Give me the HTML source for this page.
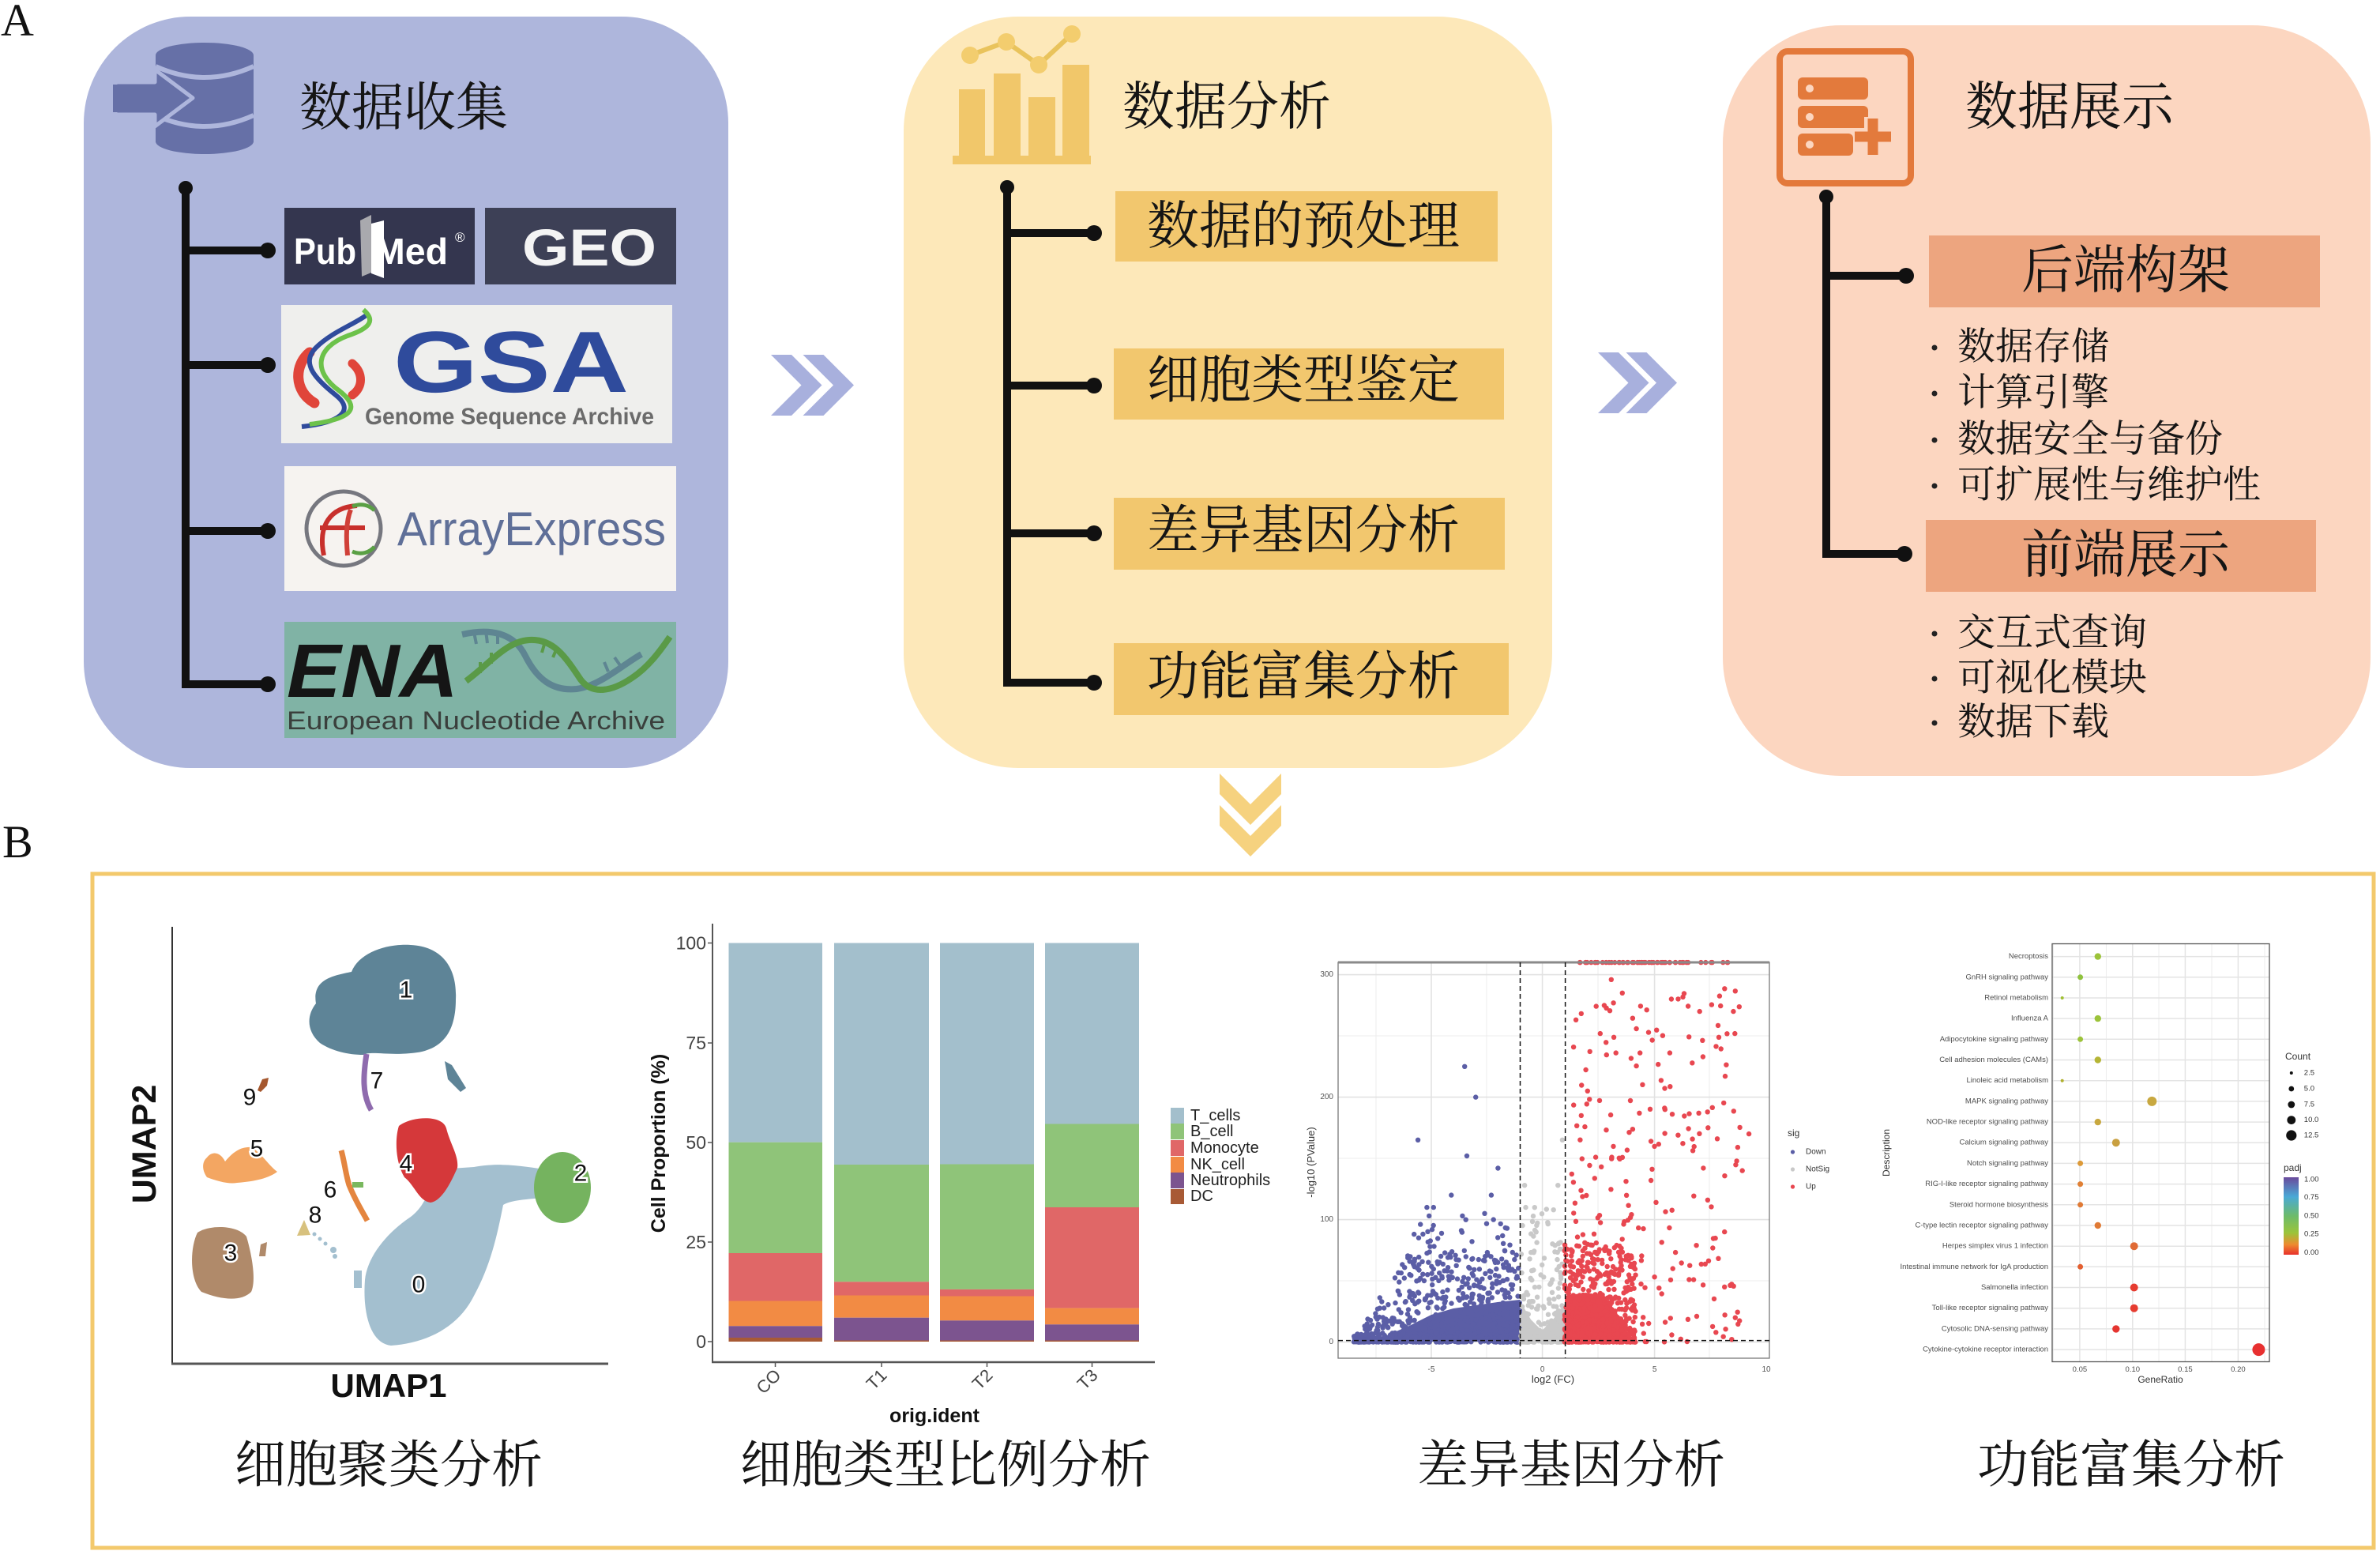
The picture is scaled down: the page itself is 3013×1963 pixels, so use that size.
<!DOCTYPE html>
<html><head><meta charset="utf-8">
<style>
html,body{margin:0;padding:0;background:#fff;}
svg{display:block;}
.cjk{font-family:"Liberation Serif","Noto Serif CJK SC",serif;}
.s{font-family:"Liberation Sans",sans-serif;}
</style></head><body>
<svg width="3013" height="1963" viewBox="0 0 3013 1963" xmlns="http://www.w3.org/2000/svg">
<rect width="3013" height="1963" fill="#fff"/>
<defs>
<linearGradient id="padj" x1="0" y1="0" x2="0" y2="1">
<stop offset="0" stop-color="#6a4a9c"/><stop offset="0.25" stop-color="#4aa9d6"/><stop offset="0.5" stop-color="#6dbb6a"/><stop offset="0.72" stop-color="#9cc43a"/><stop offset="0.87" stop-color="#ee8a30"/><stop offset="1" stop-color="#e8302c"/>
</linearGradient>
<clipPath id="vclip"><rect x="1694" y="1214" width="546" height="505"/></clipPath>
</defs>

<!-- Labels A / B -->
<text x="1" y="45" font-family="Liberation Serif, serif" font-size="58" fill="#111">A</text>
<text x="3" y="1085" font-family="Liberation Serif, serif" font-size="58" fill="#111">B</text>

<!-- ============ PANEL A : BLUE ============ -->
<rect x="106" y="21" width="816" height="951" rx="135" fill="#aeb6dc"/>
<g fill="#6670a7">
<rect x="197" y="70" width="124" height="110"/>
<ellipse cx="259" cy="70" rx="62" ry="16"/>
<ellipse cx="259" cy="179" rx="62" ry="16"/>
</g>
<path d="M197,84 Q259,112 321,84" stroke="#aeb6dc" stroke-width="6" fill="none"/>
<path d="M197,146 Q259,174 321,146" stroke="#aeb6dc" stroke-width="6" fill="none"/>
<polygon points="146,104 196,104 196,88 244,124 196,160 196,145 146,145" fill="#6670a7" stroke="#aeb6dc" stroke-width="5" stroke-linejoin="round"/>
<rect x="143" y="107" width="56" height="35" fill="#6670a7"/>
<text class="cjk" x="379" y="137" font-size="66" dominant-baseline="central" fill="#151515">数据收集</text>

<g stroke="#111" stroke-width="10" fill="none">
<line x1="235" y1="238" x2="235" y2="871"/>
<line x1="235" y1="317" x2="338" y2="317"/>
<line x1="235" y1="462" x2="338" y2="462"/>
<line x1="235" y1="672" x2="338" y2="672"/>
<line x1="230" y1="866" x2="338" y2="866"/>
</g>
<g fill="#111">
<circle cx="235" cy="238" r="9"/>
<circle cx="339" cy="317" r="10"/><circle cx="339" cy="462" r="10"/><circle cx="339" cy="672" r="10"/><circle cx="339" cy="866" r="10"/>
</g>

<!-- PubMed -->
<rect x="360" y="263" width="241" height="97" fill="#34364f"/>
<text class="s" x="372" y="334" font-size="46" font-weight="bold" fill="#fff" textLength="79" lengthAdjust="spacingAndGlyphs">Pub</text>
<polygon points="456,279 470,272 470,345 458,350" fill="#a9a9ae"/>
<polygon points="470,283 486,279 486,352 470,346" fill="#fff"/>
<text class="s" x="474" y="334" font-size="46" font-weight="bold" fill="#fff" textLength="93" lengthAdjust="spacingAndGlyphs">Med</text>
<text class="s" x="576" y="306" font-size="17" fill="#fff">®</text>
<!-- GEO -->
<rect x="614" y="263" width="242" height="97" fill="#3d4056"/>
<text class="s" x="661" y="336" font-size="66" font-weight="bold" fill="#f4f4f4" textLength="170" lengthAdjust="spacingAndGlyphs">GEO</text>
<!-- GSA -->
<rect x="356" y="386" width="495" height="175" fill="#efefed"/>
<path d="M392,446 C372,462 372,495 398,510" stroke="#e0453a" stroke-width="13" fill="none" stroke-linecap="round"/>
<path d="M446,460 C460,472 460,490 446,500" stroke="#e0453a" stroke-width="11" fill="none" stroke-linecap="round"/>
<path d="M465,398 C450,410 420,420 400,440 C380,460 400,480 425,500 C450,520 430,535 382,540" stroke="#2f4b9c" stroke-width="6" fill="none"/>
<path d="M460,392 C475,405 470,415 440,425 C400,440 395,470 430,495 C455,515 450,530 392,537" stroke="#6cc24a" stroke-width="6" fill="none"/>
<text class="s" x="498" y="496" font-size="110" font-weight="bold" fill="#2f4b9c" textLength="298" lengthAdjust="spacingAndGlyphs">GSA</text>
<text class="s" x="462" y="537" font-size="30" font-weight="bold" fill="#6b6b6b" textLength="366" lengthAdjust="spacingAndGlyphs">Genome Sequence Archive</text>
<!-- ArrayExpress -->
<rect x="360" y="590" width="496" height="158" fill="#f6f3f0"/>
<circle cx="435" cy="669" r="47" stroke="#76777f" stroke-width="5" fill="none"/>
<path d="M410,703 C402,665 418,642 452,640" stroke="#c8302c" stroke-width="6" fill="none"/>
<path d="M405,668 L462,668" stroke="#c8302c" stroke-width="6"/>
<path d="M440,703 C438,680 438,660 444,645" stroke="#d04038" stroke-width="6" fill="none"/>
<path d="M446,641 C458,636 468,640 474,646" stroke="#5aa045" stroke-width="5" fill="none"/>
<path d="M446,698 C458,703 468,699 474,692" stroke="#5aa045" stroke-width="5" fill="none"/>
<text class="s" x="503" y="690" font-size="60" fill="#5f6f98" textLength="340" lengthAdjust="spacingAndGlyphs">ArrayExpress</text>
<!-- ENA -->
<rect x="360" y="787" width="496" height="147" fill="#80b3a5"/>
<path d="M585,803 C620,795 650,800 665,830 C680,860 700,875 730,872 C760,868 790,840 812,828" stroke="#5e8592" stroke-width="8" fill="none"/>
<path d="M590,862 C620,840 640,812 670,810 C700,808 715,830 735,860 C750,880 775,875 800,858 C820,845 835,825 848,806" stroke="#5a9a47" stroke-width="8" fill="none"/>
<g stroke="#5e8592" stroke-width="4"><line x1="600" y1="800" x2="603" y2="815"/><line x1="615" y1="798" x2="617" y2="814"/><line x1="630" y1="800" x2="630" y2="815"/><line x1="770" y1="850" x2="765" y2="838"/><line x1="785" y1="842" x2="778" y2="832"/></g>
<g stroke="#5a9a47" stroke-width="4"><line x1="608" y1="852" x2="608" y2="838"/><line x1="622" y1="840" x2="622" y2="826"/><line x1="690" y1="812" x2="686" y2="826"/><line x1="705" y1="820" x2="700" y2="832"/></g>
<text class="s" x="363" y="882" font-size="96" font-weight="bold" font-style="italic" fill="#151515" textLength="217" lengthAdjust="spacingAndGlyphs">ENA</text>
<text class="s" x="363" y="923" font-size="32" fill="#3a3f3c" textLength="479" lengthAdjust="spacingAndGlyphs">European Nucleotide Archive</text>

<!-- chevrons -->
<g fill="#a8b0dd">
<polygon points="976,449 1002,449 1040.5,487.5 1002,526 976,526 1014.5,487.5"/>
<polygon points="1016.5,449 1042.5,449 1081,487.5 1042.5,526 1016.5,526 1055,487.5"/>
<polygon points="2023,446 2049,446 2087.5,484.5 2049,523 2023,523 2061.5,484.5"/>
<polygon points="2058.5,446 2084.5,446 2123,484.5 2084.5,523 2058.5,523 2097,484.5"/>
</g>
<g fill="#f6d27f">
<polygon points="1544,979 1583,1018 1622,979 1622,1005 1583,1044 1544,1005"/>
<polygon points="1544,1019 1583,1058 1622,1019 1622,1045 1583,1084 1544,1045"/>
</g>

<!-- ============ PANEL A : YELLOW ============ -->
<rect x="1144" y="21" width="821" height="951" rx="145" fill="#fde8b9"/>
<g fill="#f1c76a">
<rect x="1206" y="197" width="175" height="11"/>
<rect x="1214" y="113" width="33" height="84"/>
<rect x="1258" y="93" width="34" height="104"/>
<rect x="1302" y="123" width="34" height="74"/>
<rect x="1345" y="82" width="34" height="115"/>
</g>
<polyline points="1228,70 1274,53 1315,82 1357,43" stroke="#e9c35c" stroke-width="6" fill="none"/>
<g fill="#f3cd6e"><circle cx="1228" cy="70" r="11"/><circle cx="1274" cy="53" r="11"/><circle cx="1315" cy="82" r="11"/><circle cx="1357" cy="43" r="11"/></g>
<text class="cjk" x="1421" y="136" font-size="66" dominant-baseline="central" fill="#151515">数据分析</text>
<g stroke="#111" stroke-width="10" fill="none">
<line x1="1275" y1="237" x2="1275" y2="869"/>
<line x1="1275" y1="295" x2="1384" y2="295"/>
<line x1="1275" y1="488" x2="1384" y2="488"/>
<line x1="1275" y1="675" x2="1384" y2="675"/>
<line x1="1270" y1="864" x2="1384" y2="864"/>
</g>
<g fill="#111">
<circle cx="1275" cy="237" r="9"/>
<circle cx="1385" cy="295" r="10"/><circle cx="1385" cy="488" r="10"/><circle cx="1385" cy="675" r="10"/><circle cx="1385" cy="864" r="10"/>
</g>
<g fill="#f2c76e">
<rect x="1412" y="242" width="484" height="89"/>
<rect x="1410" y="441" width="494" height="90"/>
<rect x="1410" y="630" width="495" height="91"/>
<rect x="1410" y="814" width="500" height="91"/>
</g>
<g class="cjk" font-size="66" fill="#151515" dominant-baseline="central">
<text x="1452" y="287">数据的预处理</text>
<text x="1452" y="482">细胞类型鉴定</text>
<text x="1452" y="672">差异基因分析</text>
<text x="1452" y="857">功能富集分析</text>
</g>

<!-- ============ PANEL A : ORANGE ============ -->
<rect x="2181" y="32" width="820" height="950" rx="150" fill="#fcd6c0"/>
<rect x="2253" y="65" width="166" height="167" rx="10" stroke="#e3793b" stroke-width="8" fill="none"/>
<g fill="#e37a3c">
<rect x="2276" y="98" width="89" height="28" rx="6"/>
<rect x="2276" y="134" width="89" height="28" rx="6"/>
<rect x="2276" y="169" width="70" height="28" rx="6"/>
</g>
<g fill="#fcd6c0"><circle cx="2291" cy="112" r="5"/><circle cx="2291" cy="148" r="5"/><circle cx="2291" cy="183" r="5"/></g>
<path d="M2371,148 V198 M2346,173 H2396" stroke="#fcd6c0" stroke-width="22"/>
<path d="M2371,150 V196 M2348,173 H2394" stroke="#e37a3c" stroke-width="13"/>
<text class="cjk" x="2488" y="136" font-size="66" dominant-baseline="central" fill="#151515">数据展示</text>
<g stroke="#111" stroke-width="10" fill="none">
<line x1="2312" y1="249" x2="2312" y2="706"/>
<line x1="2312" y1="349" x2="2413" y2="349"/>
<line x1="2307" y1="701" x2="2413" y2="701"/>
</g>
<g fill="#111"><circle cx="2312" cy="249" r="9"/><circle cx="2413" cy="349" r="10"/><circle cx="2411" cy="701" r="10"/></g>
<g fill="#eda57f">
<rect x="2442" y="298" width="495" height="91"/>
<rect x="2438" y="658" width="494" height="91"/>
</g>
<g class="cjk" font-size="66" fill="#151515" dominant-baseline="central">
<text x="2559" y="343">后端构架</text>
<text x="2559" y="703">前端展示</text>
</g>
<g fill="#222">
<circle cx="2449" cy="440" r="3.5"/><circle cx="2449" cy="498" r="3.5"/><circle cx="2449" cy="557" r="3.5"/><circle cx="2449" cy="615" r="3.5"/>
<circle cx="2449" cy="802" r="3.5"/><circle cx="2449" cy="859" r="3.5"/><circle cx="2449" cy="915" r="3.5"/>
</g>
<g class="cjk" font-size="48" fill="#151515" dominant-baseline="central">
<text x="2478" y="439">数据存储</text>
<text x="2478" y="497">计算引擎</text>
<text x="2478" y="556">数据安全与备份</text>
<text x="2478" y="614">可扩展性与维护性</text>
<text x="2478" y="801">交互式查询</text>
<text x="2478" y="858">可视化模块</text>
<text x="2478" y="914">数据下载</text>
</g>

<!-- ============ PANEL B ============ -->
<rect x="117" y="1106" width="2888" height="853" stroke="#f3c96c" stroke-width="5" fill="none"/>

<!-- UMAP -->
<line x1="218" y1="1173" x2="218" y2="1727" stroke="#333" stroke-width="2"/>
<line x1="217" y1="1726" x2="770" y2="1726" stroke="#555" stroke-width="3"/>
<text class="s" transform="translate(197,1448) rotate(-90)" text-anchor="middle" font-size="43" font-weight="bold" fill="#111">UMAP2</text>
<text class="s" x="492" y="1768" text-anchor="middle" font-size="42" font-weight="bold" fill="#111">UMAP1</text>
<path d="M400,1270 C395,1240 420,1235 445,1230 C455,1205 490,1194 520,1196 C560,1198 579,1225 577,1265 C577,1300 565,1330 520,1333 C490,1336 470,1330 460,1335 C440,1335 420,1330 405,1320 C388,1305 388,1285 400,1270 Z" fill="#5e8497"/>
<path d="M464,1334 C460,1360 458,1385 470,1405" stroke="#8f6bae" stroke-width="7" fill="none"/>
<polygon points="563,1343 572,1348 590,1377 583,1382 567,1366" fill="#5e8497"/>
<path d="M556,1480 L600,1477 C640,1470 670,1478 692,1480 L690,1516 C660,1518 645,1520 637,1525 C630,1560 622,1600 600,1640 C580,1680 540,1700 495,1703 C468,1700 459,1660 462,1620 C465,1590 490,1560 520,1540 C540,1525 545,1500 556,1480 Z" fill="#a3bfcf"/>
<path d="M505,1425 C520,1413 560,1410 565,1428 C570,1448 581,1463 579,1478 C572,1494 560,1520 545,1522 C530,1520 525,1500 512,1490 C500,1470 500,1440 505,1425 Z" fill="#d5383a"/>
<ellipse cx="712" cy="1503" rx="36" ry="45" fill="#75b35f"/>
<path d="M250,1560 C265,1550 300,1550 312,1565 C318,1585 325,1620 318,1635 C305,1648 280,1645 255,1635 C240,1620 240,1580 250,1560 Z" fill="#b08a6a"/>
<path d="M330,1575 L338,1572 L336,1590 L328,1590 Z" fill="#b08a6a"/>
<path d="M262,1465 C270,1455 280,1460 285,1470 C295,1458 305,1451 318,1452 C330,1458 340,1475 351,1483 C340,1491 325,1495 300,1497 C290,1499 275,1495 262,1490 C255,1480 256,1470 262,1465 Z" fill="#f3a662"/>
<path d="M432,1456 C436,1470 438,1488 442,1500 C450,1520 458,1532 465,1545" stroke="#e4853f" stroke-width="7" fill="none"/>
<rect x="446" y="1496" width="14" height="7" fill="#79b85e"/>
<polygon points="376,1564 385,1544 393,1563" fill="#d7c17e"/>
<g fill="#a3bfcf"><circle cx="398" cy="1562" r="2.5"/><circle cx="405" cy="1568" r="2.5"/><circle cx="412" cy="1574" r="2.5"/><circle cx="422" cy="1582" r="4"/><circle cx="424" cy="1590" r="3"/><rect x="448" y="1608" width="10" height="22"/></g>
<polygon points="326,1380 332,1366 340,1364 338,1374 330,1382" fill="#a5572e"/>
<g class="s" font-size="30" fill="#111" stroke="#fff" stroke-width="5" paint-order="stroke" text-anchor="middle" dominant-baseline="central">
<text x="514" y="1253">1</text><text x="477" y="1368">7</text><text x="316" y="1389">9</text><text x="325" y="1454">5</text><text x="418" y="1506">6</text><text x="399" y="1538">8</text><text x="514" y="1473">4</text><text x="735" y="1485">2</text><text x="292" y="1586">3</text><text x="530" y="1626">0</text>
</g>

<!-- Bar chart -->
<g>
<rect x="922.5" y="1193.5" width="118.5" height="252.2" fill="#a3bfcc"/>
<rect x="922.5" y="1445.7" width="118.5" height="140.3" fill="#8fc479"/>
<rect x="922.5" y="1586" width="118.5" height="60.5" fill="#e06767"/>
<rect x="922.5" y="1646.5" width="118.5" height="31.8" fill="#f28b44"/>
<rect x="922.5" y="1678.3" width="118.5" height="15.3" fill="#7c548f"/>
<rect x="922.5" y="1693" width="118.5" height="5" fill="#a85a35"/>

<rect x="1056" y="1193.5" width="120" height="280.5" fill="#a3bfcc"/>
<rect x="1056" y="1474" width="120" height="148.3" fill="#8fc479"/>
<rect x="1056" y="1622.3" width="120" height="17.2" fill="#e06767"/>
<rect x="1056" y="1639.5" width="120" height="28.2" fill="#f28b44"/>
<rect x="1056" y="1667.7" width="120" height="28.8" fill="#7c548f"/>
<rect x="1056" y="1696.5" width="120" height="1.5" fill="#a85a35"/>

<rect x="1190" y="1193.5" width="119" height="280" fill="#a3bfcc"/>
<rect x="1190" y="1473.5" width="119" height="158.4" fill="#8fc479"/>
<rect x="1190" y="1631.9" width="119" height="8.6" fill="#e06767"/>
<rect x="1190" y="1640.5" width="119" height="30.8" fill="#f28b44"/>
<rect x="1190" y="1671.3" width="119" height="25.2" fill="#7c548f"/>
<rect x="1190" y="1696.5" width="119" height="1.5" fill="#a85a35"/>

<rect x="1323" y="1193.5" width="119" height="229" fill="#a3bfcc"/>
<rect x="1323" y="1422.5" width="119" height="105.5" fill="#8fc479"/>
<rect x="1323" y="1528" width="119" height="127.6" fill="#e06767"/>
<rect x="1323" y="1655.6" width="119" height="20.7" fill="#f28b44"/>
<rect x="1323" y="1676.3" width="119" height="20.2" fill="#7c548f"/>
<rect x="1323" y="1696.5" width="119" height="1.5" fill="#a85a35"/>
</g>
<line x1="902" y1="1169" x2="902" y2="1725" stroke="#555" stroke-width="2"/>
<line x1="901" y1="1724" x2="1462" y2="1724" stroke="#555" stroke-width="2.5"/>
<g stroke="#555" stroke-width="1.5">
<line x1="896" y1="1698" x2="902" y2="1698"/><line x1="896" y1="1572" x2="902" y2="1572"/><line x1="896" y1="1446" x2="902" y2="1446"/><line x1="896" y1="1320" x2="902" y2="1320"/><line x1="896" y1="1193.5" x2="902" y2="1193.5"/>
<line x1="981.5" y1="1724" x2="981.5" y2="1730"/><line x1="1116" y1="1724" x2="1116" y2="1730"/><line x1="1249.5" y1="1724" x2="1249.5" y2="1730"/><line x1="1382.5" y1="1724" x2="1382.5" y2="1730"/>
</g>
<g class="s" font-size="23" fill="#444" text-anchor="end" dominant-baseline="central">
<text x="894" y="1698">0</text><text x="894" y="1572">25</text><text x="894" y="1446">50</text><text x="894" y="1320">75</text><text x="894" y="1193.5">100</text>
</g>
<g class="s" font-size="22" fill="#444" text-anchor="end">
<text transform="translate(990,1742) rotate(-45)">CO</text>
<text transform="translate(1124,1742) rotate(-45)">T1</text>
<text transform="translate(1258,1742) rotate(-45)">T2</text>
<text transform="translate(1391,1742) rotate(-45)">T3</text>
</g>
<text class="s" transform="translate(842,1447) rotate(-90)" text-anchor="middle" font-size="25" font-weight="bold" fill="#111">Cell Proportion (%)</text>
<text class="s" x="1183" y="1800" text-anchor="middle" font-size="25" font-weight="bold" fill="#111">orig.ident</text>
<g>
<rect x="1482" y="1402" width="17" height="20" fill="#a3bfcc"/>
<rect x="1482" y="1422" width="17" height="20" fill="#8fc479"/>
<rect x="1482" y="1443" width="17" height="20" fill="#e06767"/>
<rect x="1482" y="1464" width="17" height="20" fill="#f28b44"/>
<rect x="1482" y="1484" width="17" height="20" fill="#7c548f"/>
<rect x="1482" y="1505" width="17" height="19" fill="#a85a35"/>
</g>
<g class="s" font-size="20" fill="#222" dominant-baseline="central">
<text x="1507" y="1412">T_cells</text><text x="1507" y="1432">B_cell</text><text x="1507" y="1453">Monocyte</text><text x="1507" y="1474">NK_cell</text><text x="1507" y="1494">Neutrophils</text><text x="1507" y="1514">DC</text>
</g>

<!-- Volcano -->
<rect x="1694" y="1218" width="546" height="501" fill="#fff"/>
<g stroke="#ececec" stroke-width="1">
<line x1="1742" y1="1218" x2="1742" y2="1719"/><line x1="1882" y1="1218" x2="1882" y2="1719"/><line x1="2023" y1="1218" x2="2023" y2="1719"/><line x1="2164" y1="1218" x2="2164" y2="1719"/>
<line x1="1694" y1="1311" x2="2240" y2="1311"/><line x1="1694" y1="1466" x2="2240" y2="1466"/><line x1="1694" y1="1621" x2="2240" y2="1621"/>
</g>
<g stroke="#e2e2e2" stroke-width="1.6">
<line x1="1812" y1="1218" x2="1812" y2="1719"/><line x1="1952.6" y1="1218" x2="1952.6" y2="1719"/><line x1="2094.6" y1="1218" x2="2094.6" y2="1719"/>
<line x1="1694" y1="1233.6" x2="2240" y2="1233.6"/><line x1="1694" y1="1388.6" x2="2240" y2="1388.6"/><line x1="1694" y1="1543.6" x2="2240" y2="1543.6"/><line x1="1694" y1="1698.6" x2="2240" y2="1698.6"/>
</g>
<g clip-path="url(#vclip)">
<polygon points="1728,1698 1924,1698 1924,1645 1896,1648 1868,1652 1840,1656 1812,1664 1784,1678 1756,1690 1728,1695" fill="#5b5ea6"/>
<polygon points="1924,1698 1981,1698 1981,1650 1966,1670 1952,1684 1938,1670 1924,1646" fill="#c9c9c9"/>
<polygon points="1981,1698 2060,1698 2060,1685 2046,1660 2030,1640 2008,1636 1981,1640" fill="#e84750"/>
<g id="vp"></g>
</g>
<rect x="1694" y="1218" width="546" height="501" fill="none" stroke="#7a7a7a" stroke-width="1.3"/>
<line x1="1694" y1="1218" x2="2240" y2="1218" stroke="#8a8a8a" stroke-width="3"/>
<g stroke="#111" stroke-width="1.5" stroke-dasharray="6,4">
<line x1="1924.5" y1="1218" x2="1924.5" y2="1719"/><line x1="1981.6" y1="1218" x2="1981.6" y2="1719"/><line x1="1694" y1="1696.6" x2="2240" y2="1696.6"/>
</g>
<g class="s" font-size="10" fill="#555">
<text x="1688" y="1233.6" text-anchor="end" dominant-baseline="central">300</text>
<text x="1688" y="1388.6" text-anchor="end" dominant-baseline="central">200</text>
<text x="1688" y="1543.6" text-anchor="end" dominant-baseline="central">100</text>
<text x="1688" y="1698.6" text-anchor="end" dominant-baseline="central">0</text>
<text x="1812" y="1736" text-anchor="middle">-5</text>
<text x="1952.6" y="1736" text-anchor="middle">0</text>
<text x="2094.6" y="1736" text-anchor="middle">5</text>
<text x="2236" y="1736" text-anchor="middle">10</text>
</g>
<text class="s" transform="translate(1664,1471) rotate(-90)" text-anchor="middle" font-size="13" fill="#333">-log10 (PValue)</text>
<text class="s" x="1966" y="1750" text-anchor="middle" font-size="13" fill="#333">log2 (FC)</text>
<text class="s" x="2263" y="1438" font-size="12" fill="#333">sig</text>
<circle cx="2269.5" cy="1458" r="2.6" fill="#5b5ea6"/><circle cx="2269.5" cy="1480" r="2.6" fill="#c9c9c9"/><circle cx="2269.5" cy="1502" r="2.6" fill="#e84750"/>
<g class="s" font-size="10" fill="#333" dominant-baseline="central">
<text x="2286" y="1458">Down</text><text x="2286" y="1480">NotSig</text><text x="2286" y="1502">Up</text>
</g>

<!-- Dot plot -->
<rect x="2598" y="1194.5" width="275" height="529" fill="#fff"/>
<g stroke="#ededed" stroke-width="1">
<line x1="2599.5" y1="1195" x2="2599.5" y2="1723"/><line x1="2666.4" y1="1195" x2="2666.4" y2="1723"/><line x1="2733" y1="1195" x2="2733" y2="1723"/><line x1="2800" y1="1195" x2="2800" y2="1723"/><line x1="2867" y1="1195" x2="2867" y2="1723"/>
</g>
<g stroke="#e4e4e4" stroke-width="1.5">
<line x1="2632.9" y1="1195" x2="2632.9" y2="1723"/><line x1="2699.8" y1="1195" x2="2699.8" y2="1723"/><line x1="2766.4" y1="1195" x2="2766.4" y2="1723"/><line x1="2833.4" y1="1195" x2="2833.4" y2="1723"/>
<line x1="2598" y1="1210.6" x2="2873" y2="1210.6"/><line x1="2598" y1="1236.8" x2="2873" y2="1236.8"/><line x1="2598" y1="1263" x2="2873" y2="1263"/><line x1="2598" y1="1289.1" x2="2873" y2="1289.1"/><line x1="2598" y1="1315.3" x2="2873" y2="1315.3"/><line x1="2598" y1="1341.5" x2="2873" y2="1341.5"/><line x1="2598" y1="1367.7" x2="2873" y2="1367.7"/><line x1="2598" y1="1393.9" x2="2873" y2="1393.9"/><line x1="2598" y1="1420.1" x2="2873" y2="1420.1"/><line x1="2598" y1="1446.2" x2="2873" y2="1446.2"/><line x1="2598" y1="1472.4" x2="2873" y2="1472.4"/><line x1="2598" y1="1498.6" x2="2873" y2="1498.6"/><line x1="2598" y1="1524.8" x2="2873" y2="1524.8"/><line x1="2598" y1="1551" x2="2873" y2="1551"/><line x1="2598" y1="1577.2" x2="2873" y2="1577.2"/><line x1="2598" y1="1603.3" x2="2873" y2="1603.3"/><line x1="2598" y1="1629.5" x2="2873" y2="1629.5"/><line x1="2598" y1="1655.7" x2="2873" y2="1655.7"/><line x1="2598" y1="1681.9" x2="2873" y2="1681.9"/><line x1="2598" y1="1708.1" x2="2873" y2="1708.1"/>
</g>
<rect x="2598" y="1194.5" width="275" height="529" fill="none" stroke="#555" stroke-width="1.3"/>
<g>
<circle cx="2655.8" cy="1210.6" r="4.2" fill="#9cc33a"/>
<circle cx="2633.6" cy="1236.8" r="3.5" fill="#8fc23e"/>
<circle cx="2610.7" cy="1263" r="2" fill="#a0c033"/>
<circle cx="2655.8" cy="1289.1" r="4.2" fill="#9cc33a"/>
<circle cx="2633.6" cy="1315.3" r="3.5" fill="#9cc33a"/>
<circle cx="2655.8" cy="1341.5" r="4.2" fill="#b5b535"/>
<circle cx="2610.7" cy="1367.7" r="2" fill="#b0b030"/>
<circle cx="2724.3" cy="1393.9" r="6" fill="#c8a840"/>
<circle cx="2655.8" cy="1420.1" r="4.2" fill="#c8a840"/>
<circle cx="2678.8" cy="1446.2" r="5" fill="#c9a040"/>
<circle cx="2633.6" cy="1472.4" r="3.5" fill="#dd9a38"/>
<circle cx="2633.6" cy="1498.6" r="3.5" fill="#e08035"/>
<circle cx="2633.6" cy="1524.8" r="3.5" fill="#e07a35"/>
<circle cx="2655.8" cy="1551" r="4.2" fill="#e07a35"/>
<circle cx="2701.7" cy="1577.2" r="5" fill="#e06a35"/>
<circle cx="2633.6" cy="1603.3" r="3.5" fill="#e35f30"/>
<circle cx="2701.7" cy="1629.5" r="5" fill="#e63c30"/>
<circle cx="2701.7" cy="1655.7" r="5" fill="#e63c30"/>
<circle cx="2678.8" cy="1681.9" r="4.7" fill="#e53530"/>
<circle cx="2859.4" cy="1708.1" r="8" fill="#e83030"/>
</g>
<g class="s" font-size="9.5" fill="#4d4d4d" text-anchor="end" dominant-baseline="central">
<text x="2593" y="1210.6">Necroptosis</text>
<text x="2593" y="1236.8">GnRH signaling pathway</text>
<text x="2593" y="1263">Retinol metabolism</text>
<text x="2593" y="1289.1">Influenza A</text>
<text x="2593" y="1315.3">Adipocytokine signaling pathway</text>
<text x="2593" y="1341.5">Cell adhesion molecules (CAMs)</text>
<text x="2593" y="1367.7">Linoleic acid metabolism</text>
<text x="2593" y="1393.9">MAPK signaling pathway</text>
<text x="2593" y="1420.1">NOD-like receptor signaling pathway</text>
<text x="2593" y="1446.2">Calcium signaling pathway</text>
<text x="2593" y="1472.4">Notch signaling pathway</text>
<text x="2593" y="1498.6">RIG-I-like receptor signaling pathway</text>
<text x="2593" y="1524.8">Steroid hormone biosynthesis</text>
<text x="2593" y="1551">C-type lectin receptor signaling pathway</text>
<text x="2593" y="1577.2">Herpes simplex virus 1 infection</text>
<text x="2593" y="1603.3">Intestinal immune network for IgA production</text>
<text x="2593" y="1629.5">Salmonella infection</text>
<text x="2593" y="1655.7">Toll-like receptor signaling pathway</text>
<text x="2593" y="1681.9">Cytosolic DNA-sensing pathway</text>
<text x="2593" y="1708.1">Cytokine-cytokine receptor interaction</text>
</g>
<g class="s" font-size="9.5" fill="#4d4d4d" text-anchor="middle">
<text x="2632.9" y="1736">0.05</text><text x="2699.8" y="1736">0.10</text><text x="2766.4" y="1736">0.15</text><text x="2833.4" y="1736">0.20</text>
</g>
<text class="s" x="2735" y="1750" text-anchor="middle" font-size="12" fill="#333">GeneRatio</text>
<text class="s" transform="translate(2392,1459) rotate(-90)" text-anchor="middle" font-size="12" fill="#333">Description</text>
<text class="s" x="2893" y="1341" font-size="12" fill="#333">Count</text>
<g fill="#111"><circle cx="2900.8" cy="1358" r="2"/><circle cx="2900.8" cy="1378" r="3.4"/><circle cx="2900.8" cy="1398" r="4.4"/><circle cx="2900.8" cy="1417.6" r="5.4"/><circle cx="2900.8" cy="1437" r="6.6"/></g>
<g class="s" font-size="9.5" fill="#333" dominant-baseline="central">
<text x="2916.8" y="1358">2.5</text><text x="2916.8" y="1378">5.0</text><text x="2916.8" y="1398">7.5</text><text x="2916.8" y="1417.6">10.0</text><text x="2916.8" y="1437">12.5</text>
</g>
<text class="s" x="2891" y="1482" font-size="12" fill="#333">padj</text>
<rect x="2891" y="1490" width="19" height="98" fill="url(#padj)"/>
<g class="s" font-size="9.5" fill="#333" dominant-baseline="central">
<text x="2917" y="1493">1.00</text><text x="2917" y="1515.6">0.75</text><text x="2917" y="1539">0.50</text><text x="2917" y="1562">0.25</text><text x="2917" y="1585.7">0.00</text>
</g>

<!-- bottom captions -->
<g class="cjk" font-size="65" fill="#151515" dominant-baseline="central">
<text x="297" y="1855">细胞聚类分析</text>
<text x="937" y="1855">细胞类型比例分析</text>
<text x="1794" y="1855">差异基因分析</text>
<text x="2503" y="1855">功能富集分析</text>
</g>
</svg>
<script>
(function(){
function mb(a){return function(){a|=0;a=a+0x6D2B79F5|0;var t=Math.imul(a^a>>>15,1|a);t=t+Math.imul(t^t>>>7,61|t)^t;return((t^t>>>14)>>>0)/4294967296;};}
var r=mb(20240517);
function X(v){return 1952.6+v*28.12;}
function Y(v){return 1698.6-v*1.55;}
var s=[];
function pt(x,y,c){if(y>310)y=310;s.push('<circle cx="'+X(x).toFixed(1)+'" cy="'+Y(y).toFixed(1)+'" r="3.2" fill="'+c+'"/>');}
var B='#5b5ea6',G='#c9c9c9',R='#e84750',i,x,y,f;
for(i=0;i<650;i++){x=-1-7.5*Math.pow(r(),1.25);f=x<-6?Math.max(0.1,1-(-6-x)/2.6):1;y=Math.pow(r(),2.8)*75*f;pt(x,y,B);}
for(i=0;i<90;i++){x=-1.3-4.7*r();y=30+r()*70;pt(x,y,B);}
[[-3.5,225],[-3,200],[-5.6,165],[-3.4,152],[-2,142],[-4.1,120],[-2.3,120],[-5.2,110],[-4.9,110],[-5.1,103],[-3.6,103],[-2.6,105],[-2.2,100],[-8,13],[-8.3,5],[-5.9,40]].forEach(function(p){pt(p[0],p[1],B);});
for(i=0;i<240;i++){x=-0.98+1.96*r();if(Math.abs(x)<0.25&&r()<0.6)x=x*3;y=Math.pow(r(),3)*110;pt(Math.max(-0.98,Math.min(0.98,x)),y,G);}
[[-0.8,128],[0.7,128],[-0.75,110],[0.5,108],[0.9,165]].forEach(function(p){pt(p[0],p[1],G);});
for(i=0;i<550;i++){x=1+3.2*Math.pow(r(),1.3);y=Math.pow(r(),2.4)*80;pt(x,y,R);}
for(i=0;i<250;i++){x=1.3+7.6*Math.pow(r(),1.15);y=Math.pow(r(),1.2)*290;pt(x,y,R);}
for(i=0;i<55;i++){x=1.6+6.8*r();pt(x,312,R);}
[[8.6,270],[9.3,170],[9,140],[8.2,90],[8.2,45],[3.1,296],[3.6,285],[3.2,277]].forEach(function(p){pt(p[0],p[1],R);});
var g=document.getElementById('vp');if(g)g.innerHTML=s.join('');
})();
</script>
</body></html>
